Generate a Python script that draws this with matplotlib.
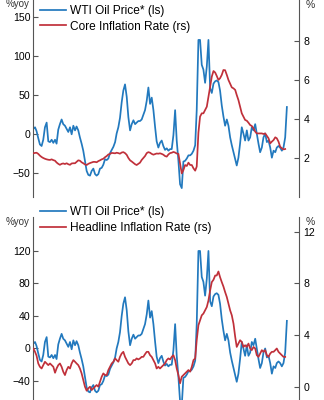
import numpy as np
import pandas as pd
import matplotlib
matplotlib.use('Agg')
import matplotlib.pyplot as plt

plt.rcParams['font.family'] = ['Liberation Sans', 'DejaVu Sans']

# monatliche Werte
wti = [6, 8, 3, -6, -14, -16, -8, 8, 14, -10, -11, -8, -12, -8, -13, 5, 12, 18, 12, 10,
       6, 2, 8, -1, 10, 4, 9, 4, -5, -13, -22, -35, -48, -53, -54, -48, -45, -52, -54, -52,
       -45, -44, -40, -33, -34, -32, -25, -21, -17, -11, 0, 8, 20, 40, 55, 63, 47, 21, 4, 12,
       17, 12, 14, 16, 16, 18, 24, 30, 42, 59, 38, 46, 30, 8, -10, -18, -12, -9, -16, -21,
       -19, -22, -20, -20, -2, 30, -9, -35, -65, -70, -36, -35, -32, -28, -28, -26, -22, -15, 30, 120,
       120, 88, 82, 65, 86, 120, 58, 52, 64, 67, 68, 66, 55, 36, 22, 10, 18, 10, -5, -15,
       -24, -33, -41, -31, -13, 8, 0, -9, 4, -9, -5, 8, 4, 12, 0, -13, -24, -18, -5, 0,
       -11, -9, -18, -31, -22, -24, -18, -16, -18, -22, -18, -5, 34]

core = [2.24, 2.26, 2.27, 2.21, 2.12, 2.05, 2.00, 1.96, 1.93, 1.91, 1.90, 1.93, 1.89, 1.86, 1.77, 1.70,
        1.65, 1.70, 1.72, 1.69, 1.73, 1.68, 1.65, 1.72, 1.73, 1.73, 1.80, 1.88, 1.86, 1.78, 1.73, 1.67,
        1.64, 1.70, 1.74, 1.77, 1.80, 1.80, 1.78, 1.84, 1.88, 1.93, 1.96, 2.04, 2.10, 2.18, 2.21, 2.26,
        2.25, 2.24, 2.27, 2.25, 2.22, 2.28, 2.30, 2.25, 2.16, 2.00, 1.88, 1.82, 1.75, 1.68, 1.64, 1.70,
        1.76, 1.90, 2.00, 2.10, 2.25, 2.30, 2.27, 2.21, 2.17, 2.20, 2.23, 2.22, 2.24, 2.21, 2.17, 2.10,
        2.07, 2.18, 2.25, 2.27, 2.31, 2.28, 2.23, 2.21, 1.73, 1.21, 1.38, 1.64, 1.59, 1.76, 1.64, 1.64,
        1.47, 1.35, 1.56, 3.30, 4.12, 4.29, 4.29, 4.46, 4.63, 5.15, 5.66, 6.17, 6.46, 6.38, 6.21, 6.00,
        6.09, 6.26, 6.51, 6.50, 6.26, 6.00, 5.80, 5.62, 5.57, 5.49, 5.23, 4.97, 4.63, 4.29, 4.12, 3.95,
        3.91, 3.81, 3.69, 3.64, 3.52, 3.35, 3.26, 3.26, 3.26, 3.26, 3.23, 3.26, 3.13, 3.01, 2.75, 2.84,
        2.92, 3.06, 3.01, 2.84, 2.58, 2.50, 2.44, 2.46]

headline = [2.96, 2.70, 2.40, 1.80, 1.54, 1.41, 1.67, 1.93, 1.80, 1.67, 1.80, 1.67, 1.54, 1.08, 1.41, 1.67,
            1.80, 1.54, 1.16, 0.90, 1.29, 1.54, 1.41, 1.80, 2.06, 1.93, 1.80, 1.67, 1.41, 1.03, 0.51, 0.00,
            -0.31, -0.13, 0.00, -0.26, -0.13, 0.00, 0.13, 0.00, 0.39, 0.77, 1.03, 0.90, 0.90, 1.29, 1.54, 1.80,
            1.93, 2.19, 2.06, 1.93, 2.31, 2.57, 2.70, 2.31, 2.06, 1.80, 1.67, 1.80, 2.06, 2.06, 2.19, 2.11,
            2.19, 2.31, 2.31, 2.52, 2.70, 2.70, 2.44, 2.31, 2.06, 1.80, 1.41, 1.54, 1.41, 1.54, 1.67, 1.80,
            2.06, 2.19, 2.11, 2.31, 2.44, 2.06, 1.41, 0.90, 0.26, 0.77, 0.90, 1.03, 1.16, 1.29, 1.16, 1.54,
            2.06, 2.19, 3.60, 4.76, 5.14, 5.53, 5.66, 5.91, 6.17, 6.68, 7.46, 8.10, 8.28, 8.61, 8.61, 8.92,
            8.48, 8.10, 7.76, 7.33, 6.94, 6.43, 5.91, 5.53, 4.88, 3.86, 3.08, 3.34, 3.60, 3.47, 3.08, 3.21,
            3.08, 3.34, 2.96, 2.83, 3.08, 2.96, 2.44, 2.31, 2.57, 2.83, 2.70, 2.83, 2.44, 2.31, 2.57, 2.70,
            2.70, 2.83, 2.96, 2.70, 2.57, 2.44, 2.31, 2.31]

monate = pd.date_range('2013-01-01', periods=len(wti), freq='MS')

blau = '#2279be'
rot = '#c0303a'
grau = '#555555'


def achse_stylen(ax, rechts=False):
    for s in ['top', 'bottom']:
        ax.spines[s].set_visible(False)
    ax.spines['left'].set_visible(not rechts)
    ax.spines['right'].set_visible(rechts)
    ax.spines['left'].set_color(grau)
    ax.spines['right'].set_color(grau)
    ax.spines['left'].set_linewidth(0.8)
    ax.spines['right'].set_linewidth(0.8)
    ax.tick_params(axis='y', direction='in', length=3.5, width=0.8, color=grau,
                   labelsize=7.6, pad=2 if not rechts else 3.5)
    ax.tick_params(axis='x', bottom=False, labelbottom=False)


def panel(rect, inflation, label_infl, lylim, lticks, rylim, rticks):
    ax = fig.add_axes(rect)
    ax2 = ax.twinx()
    l1, = ax.plot(monate, wti, color=blau, lw=1.25, label='WTI Oil Price* (ls)')
    l2, = ax2.plot(monate[:len(inflation)], inflation, color=rot, lw=1.25, label=label_infl)
    ax.set_ylim(*lylim)
    ax.set_yticks(lticks)
    ax2.set_ylim(*rylim)
    ax2.set_yticks(rticks)
    ax.set_xlim(monate[0] - pd.Timedelta(days=6), monate[0] + pd.DateOffset(months=159))
    achse_stylen(ax)
    achse_stylen(ax2, rechts=True)
    ax.patch.set_visible(False)
    return ax, ax2, [l1, l2]


fig = plt.figure(figsize=(3.24, 4.0), dpi=100)
links = 33 / 324
breite = (298.5 - 33) / 324

# oberes Panel: Kerninflation
ax, ax2, linien = panel([links, 203 / 400, breite, 197 / 400], core, 'Core Inflation Rate (rs)',
                        (-81.4, 171.2), [-50, 0, 50, 100, 150], (0, 10.1), [2, 4, 6, 8])
ax2.legend(handles=linien, loc='upper left', bbox_to_anchor=(0.026, 0.975), frameon=False,
           fontsize=8.6, handlelength=2.2, handletextpad=0.3, labelspacing=0.3,
           borderpad=0, borderaxespad=0)
fig.text(29.5 / 324, 1 - 4 / 400, '%yoy', ha='right', va='center', fontsize=7, color='#333333')
fig.text(306 / 324, 1 - 5 / 400, '%', ha='left', va='center', fontsize=7.5, color='#333333')

# unteres Panel: Gesamtinflation
ax, ax2, linien = panel([links, 0, breite, 183 / 400], headline, 'Headline Inflation Rate (rs)',
                        (-63.4, 161.8), [-40, 0, 40, 80, 120], (-1.03, 13.14), [0, 4, 8, 12])
ax2.legend(handles=linien, loc='upper left', bbox_to_anchor=(0.026, 1.058), frameon=False,
           fontsize=8.6, handlelength=2.2, handletextpad=0.3, labelspacing=0.3,
           borderpad=0, borderaxespad=0)
fig.text(29.5 / 324, 1 - 222 / 400, '%yoy', ha='right', va='center', fontsize=7, color='#333333')
fig.text(306 / 324, 1 - 222 / 400, '%', ha='left', va='center', fontsize=7.5, color='#333333')

fig.savefig('out.png', dpi=100)
